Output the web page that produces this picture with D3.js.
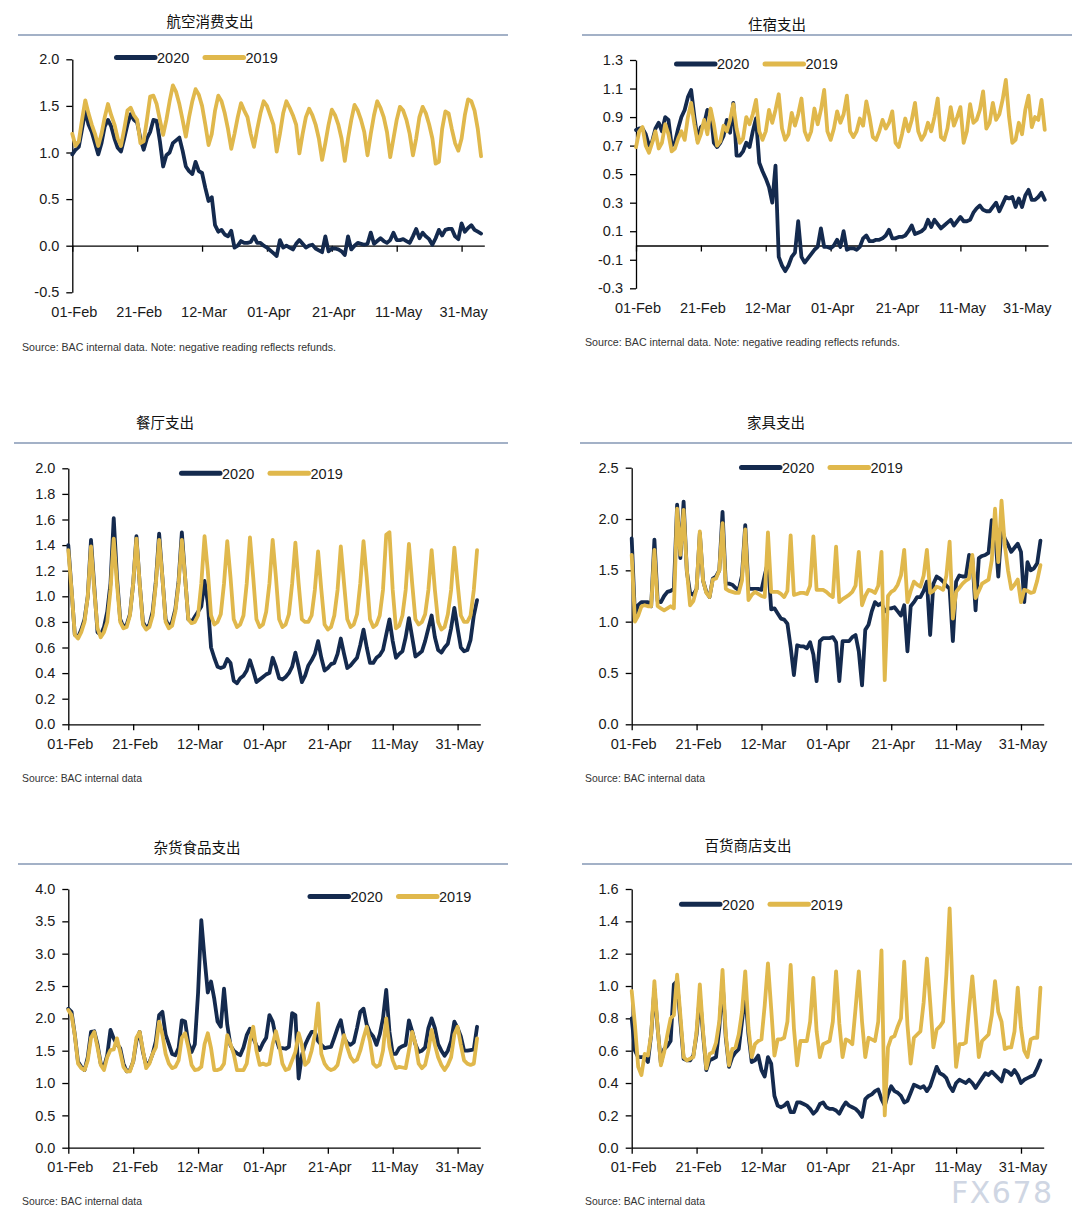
<!DOCTYPE html>
<html><head><meta charset="utf-8">
<script src="https://cdn.jsdelivr.net/npm/d3@7"></script>
<style>
body{margin:0;background:#fff;}
svg{display:block;font-family:"Liberation Sans",Arial,sans-serif;}
</style>
</head><body>
<svg id="c" width="1079" height="1226"></svg>
<script>
// ---------- data ----------
const tickDays = [0, 20, 40, 60, 80, 100, 120];
const tickLabels = ["01-Feb", "21-Feb", "12-Mar", "01-Apr", "21-Apr", "11-May", "31-May"];
const seriesNames = ["2020", "2019"];
const titles = ["航空消费支出", "住宿支出", "餐厅支出", "家具支出", "杂货食品支出", "百货商店支出"];
const footers = [
  "Source: BAC internal data. Note: negative reading reflects refunds.",
  "Source: BAC internal data. Note: negative reading reflects refunds.",
  "Source: BAC internal data", "Source: BAC internal data",
  "Source: BAC internal data", "Source: BAC internal data"
];
const yTicksAir = [-0.5, 0, 0.5, 1.0, 1.5, 2.0];
const yTicksLodging = [-0.3, -0.1, 0.1, 0.3, 0.5, 0.7, 0.9, 1.1, 1.3];
const yTicksRestaurant = [0, 0.2, 0.4, 0.6, 0.8, 1.0, 1.2, 1.4, 1.6, 1.8, 2.0];
const yTicksFurniture = [0, 0.5, 1.0, 1.5, 2.0, 2.5];
const yTicksGrocery = [0, 0.5, 1.0, 1.5, 2.0, 2.5, 3.0, 3.5, 4.0];
const yTicksDept = [0, 0.2, 0.4, 0.6, 0.8, 1.0, 1.2, 1.4, 1.6];

const air2020 = [0.98,1.03,1.06,1.25,1.45,1.30,1.22, 1.10,0.98,1.10,1.28,1.35,1.28,1.15, 1.05,1.01,1.15,1.30,1.41,1.35,1.32, 1.15,1.03,1.15,1.22,1.35,1.34,1.12, 0.85,0.97,1.00,1.10,1.13,1.16,1.02, 0.85,0.80,0.77,0.90,0.80,0.78,0.62, 0.48,0.52,0.22,0.15,0.17,0.12,0.10, 0.16,-0.02,0.00,0.05,0.03,0.03,0.04, 0.10,0.03,0.03,0.00,-0.02,-0.05,-0.08, -0.11,0.06,-0.02,0.00,-0.02,-0.04,0.02, 0.06,0.02,-0.02,0.00,0.01,-0.03,-0.05, -0.07,0.10,-0.06,-0.03,-0.03,-0.04,-0.06, -0.10,0.10,-0.04,0.00,0.03,0.02,0.01, 0.02,0.14,0.02,0.05,0.08,0.05,0.03, 0.06,0.14,0.06,0.06,0.07,0.05,0.03, 0.10,0.18,0.08,0.14,0.10,0.07,0.01, 0.08,0.17,0.11,0.17,0.18,0.18,0.10, 0.07,0.24,0.15,0.19,0.22,0.17,0.15, 0.13];
const air2019 = [1.20,1.07,1.12,1.35,1.56,1.42,1.30, 1.20,1.07,1.20,1.38,1.52,1.40,1.30, 1.15,1.07,1.25,1.45,1.48,1.40,1.35, 1.10,1.12,1.35,1.60,1.61,1.52,1.35, 1.19,1.35,1.55,1.72,1.65,1.52,1.35, 1.17,1.38,1.55,1.68,1.62,1.50,1.30, 1.08,1.20,1.45,1.61,1.55,1.42,1.25, 1.04,1.20,1.38,1.53,1.45,1.38,1.20, 1.06,1.25,1.42,1.55,1.50,1.40,1.30, 1.01,1.20,1.42,1.55,1.48,1.40,1.30, 0.99,1.20,1.38,1.47,1.40,1.30,1.15, 0.92,1.10,1.30,1.46,1.40,1.30,1.15, 0.91,1.15,1.35,1.51,1.45,1.35,1.22, 0.97,1.20,1.40,1.55,1.48,1.38,1.22, 0.95,1.15,1.35,1.49,1.45,1.35,1.20, 0.97,1.15,1.38,1.49,1.42,1.30,1.15, 0.88,0.90,1.25,1.44,1.42,1.25,1.10, 1.02,1.15,1.40,1.57,1.55,1.45,1.25, 0.96];

const lodging2020 = [0.81,0.82,0.82,0.78,0.70,0.73,0.82, 0.86,0.80,0.90,0.88,0.70,0.72,0.82, 0.90,0.95,1.04,1.09,0.90,0.74,0.83, 0.85,0.95,0.94,0.72,0.69,0.72,0.77, 0.88,0.79,1.00,0.63,0.63,0.66,0.72, 0.69,0.80,0.89,0.58,0.52,0.47,0.41, 0.30,0.56,-0.08,-0.14,-0.18,-0.14,-0.08, -0.05,0.17,-0.08,-0.12,-0.09,-0.06,-0.03, -0.01,0.12,-0.01,-0.01,-0.02,0.00,0.04, -0.01,0.10,-0.03,-0.02,-0.02,-0.03,-0.01, 0.05,0.07,0.03,0.03,0.04,0.04,0.05, 0.07,0.11,0.05,0.05,0.06,0.06,0.07, 0.10,0.14,0.08,0.09,0.10,0.12,0.18, 0.13,0.18,0.15,0.12,0.14,0.16,0.18, 0.14,0.17,0.20,0.17,0.17,0.18,0.23, 0.26,0.28,0.25,0.24,0.24,0.27,0.30, 0.24,0.29,0.34,0.33,0.34,0.27,0.33, 0.27,0.35,0.39,0.32,0.32,0.34,0.37, 0.32];
const lodging2019 = [0.69,0.80,0.83,0.70,0.65,0.72,0.80, 0.68,0.72,0.85,0.78,0.66,0.68,0.75, 0.80,0.74,0.90,1.00,0.85,0.72,0.78, 0.88,0.78,0.96,0.85,0.70,0.73,0.84, 0.80,0.88,0.99,0.82,0.72,0.75,0.90, 0.85,0.92,1.02,0.80,0.74,0.80,0.95, 0.86,0.95,1.06,0.82,0.74,0.78,0.93, 0.84,0.92,1.03,0.80,0.74,0.80,0.96, 0.85,0.95,1.09,0.80,0.74,0.82,0.94, 0.86,0.92,1.05,0.80,0.76,0.80,0.89, 0.84,1.01,0.90,0.76,0.74,0.80,0.88, 0.82,0.86,0.94,0.72,0.69,0.78,0.89, 0.80,0.88,1.00,0.80,0.74,0.78,0.86, 0.80,0.90,1.03,0.76,0.74,0.82,0.97, 0.84,0.90,0.97,0.72,0.80,0.99,0.86, 0.88,0.95,1.08,0.82,0.86,1.00,0.88, 0.92,1.02,1.16,0.90,0.72,0.74,0.86, 0.78,0.95,1.05,0.83,0.90,0.88,1.02, 0.81];

const restaurant2020 = [1.40,1.05,0.70,0.68,0.74,0.82,1.00, 1.44,1.08,0.72,0.70,0.76,0.88,1.10, 1.61,1.15,0.82,0.76,0.78,0.86,1.10, 1.47,1.10,0.80,0.75,0.78,0.88,1.12, 1.49,1.15,0.82,0.76,0.80,0.90,1.12, 1.50,1.15,0.82,0.80,0.84,0.88,0.92, 1.12,0.95,0.60,0.52,0.45,0.44,0.45, 0.51,0.48,0.34,0.32,0.36,0.38,0.42, 0.50,0.42,0.33,0.35,0.37,0.39,0.40, 0.52,0.45,0.36,0.35,0.37,0.40,0.45, 0.56,0.45,0.33,0.38,0.46,0.50,0.55, 0.65,0.52,0.42,0.44,0.47,0.48,0.55, 0.67,0.55,0.44,0.46,0.49,0.52,0.62, 0.74,0.60,0.48,0.48,0.52,0.54,0.58, 0.70,0.82,0.65,0.52,0.55,0.57,0.68, 0.83,0.68,0.53,0.55,0.57,0.65,0.75, 0.85,0.68,0.58,0.56,0.60,0.63,0.75, 0.91,0.75,0.60,0.57,0.58,0.66,0.85, 0.97];
const restaurant2019 = [1.36,1.05,0.70,0.67,0.72,0.80,1.00, 1.39,1.05,0.75,0.68,0.72,0.80,1.05, 1.45,1.10,0.80,0.75,0.76,0.85,1.10, 1.45,1.10,0.78,0.74,0.76,0.85,1.10, 1.44,1.15,0.80,0.75,0.77,0.88,1.10, 1.44,1.15,0.82,0.79,0.80,0.85,1.10, 1.47,1.20,0.85,0.78,0.80,0.86,1.10, 1.43,1.15,0.82,0.76,0.78,0.85,1.10, 1.46,1.15,0.82,0.76,0.78,0.88,1.10, 1.44,1.15,0.82,0.76,0.78,0.86,1.10, 1.42,1.10,0.82,0.80,0.80,0.85,1.05, 1.35,1.05,0.78,0.74,0.76,0.85,1.05, 1.39,1.10,0.82,0.76,0.78,0.86,1.10, 1.43,1.15,0.82,0.76,0.78,0.85,1.05, 1.48,1.50,1.05,0.75,0.77,0.85,1.05, 1.41,1.10,0.82,0.78,0.80,0.86,1.05, 1.36,1.05,0.80,0.74,0.76,0.86,1.05, 1.38,1.10,0.85,0.80,0.80,0.85,1.05, 1.36];

const furniture2020 = [1.81,1.06,1.16,1.19,1.19,1.19,1.15, 1.80,1.20,1.19,1.25,1.29,1.30,1.32, 2.14,1.62,2.17,1.49,1.28,1.26,1.32, 1.86,1.40,1.29,1.24,1.42,1.44,1.50, 2.07,1.37,1.37,1.36,1.33,1.31,1.45, 1.94,1.32,1.32,1.32,1.32,1.31,1.45, 1.58,1.12,1.13,1.08,1.03,1.02,0.98, 0.75,0.48,0.77,0.76,0.76,0.74,0.80, 0.68,0.42,0.81,0.84,0.84,0.84,0.85, 0.80,0.42,0.81,0.81,0.81,0.85,0.87, 0.71,0.38,0.92,0.97,1.10,1.19,1.16, 1.18,1.10,1.13,1.13,1.14,1.10,1.06, 1.16,0.71,1.15,1.19,1.24,1.24,1.30, 1.39,0.87,1.37,1.44,1.42,1.39,1.35, 1.32,0.81,1.39,1.45,1.44,1.44,1.65, 1.62,1.11,1.62,1.64,1.65,1.67,1.99, 1.88,1.44,1.91,1.81,1.75,1.68,1.72, 1.76,1.68,1.19,1.58,1.50,1.52,1.57, 1.79];
const furniture2019 = [1.65,1.00,1.06,1.15,1.16,1.15,1.15, 1.70,1.15,1.13,1.11,1.13,1.15,1.13, 2.10,1.65,2.09,1.50,1.16,1.20,1.32, 1.88,1.40,1.28,1.24,1.41,1.42,1.50, 1.96,1.32,1.30,1.29,1.28,1.28,1.40, 1.90,1.21,1.26,1.29,1.27,1.25,1.24, 1.87,1.29,1.29,1.29,1.27,1.24,1.30, 1.84,1.26,1.27,1.28,1.28,1.27,1.35, 1.83,1.31,1.31,1.31,1.29,1.26,1.24, 1.73,1.19,1.22,1.24,1.26,1.29,1.35, 1.68,1.16,1.25,1.31,1.30,1.28,1.35, 1.68,0.43,1.25,1.29,1.31,1.36,1.45, 1.70,1.19,1.30,1.39,1.36,1.34,1.45, 1.70,1.28,1.30,1.34,1.33,1.31,1.45, 1.78,1.03,1.29,1.33,1.37,1.40,1.42, 1.65,1.23,1.30,1.37,1.39,1.41,1.60, 2.10,1.58,2.18,1.75,1.50,1.32,1.36, 1.41,1.19,1.31,1.30,1.28,1.29,1.40, 1.55];

const grocery2020 = [2.15,2.10,1.75,1.33,1.25,1.20,1.40, 1.79,1.80,1.60,1.30,1.25,1.43,1.82, 1.69,1.60,1.54,1.30,1.18,1.20,1.33, 1.65,1.79,1.48,1.28,1.32,1.45,1.65, 2.05,2.10,1.75,1.60,1.45,1.43,1.54, 1.97,1.95,1.62,1.48,1.60,2.39,3.52, 2.93,2.40,2.57,2.30,1.95,1.87,2.46, 1.90,1.58,1.50,1.46,1.43,1.55,1.74, 1.84,1.70,1.58,1.51,1.62,1.70,2.05, 1.95,1.70,1.54,1.54,1.53,1.56,2.08, 2.05,1.07,1.43,1.59,1.70,1.79,1.79, 1.65,1.59,1.54,1.55,1.56,1.70,1.85, 1.97,1.70,1.62,1.59,1.63,1.85,2.10, 2.15,1.90,1.78,1.72,1.59,1.75,2.00, 2.44,1.79,1.45,1.45,1.54,1.57,1.59, 1.97,1.80,1.60,1.48,1.50,1.55,1.85, 2.00,1.85,1.60,1.50,1.42,1.50,1.65, 1.95,1.85,1.72,1.50,1.50,1.51,1.52, 1.87];
const grocery2019 = [2.13,2.05,1.74,1.30,1.23,1.20,1.35, 1.70,1.79,1.55,1.28,1.20,1.40,1.51, 1.52,1.69,1.48,1.25,1.18,1.18,1.33, 1.70,1.79,1.51,1.23,1.30,1.45,1.55, 1.95,1.75,1.45,1.30,1.23,1.25,1.35, 1.70,1.77,1.55,1.28,1.20,1.21,1.25, 1.60,1.77,1.54,1.20,1.20,1.22,1.30, 1.74,1.60,1.45,1.20,1.20,1.20,1.30, 1.65,1.87,1.50,1.28,1.30,1.28,1.30, 1.60,1.80,1.59,1.30,1.20,1.22,1.35, 1.48,1.77,1.59,1.28,1.33,1.50,1.75, 2.23,1.45,1.30,1.23,1.20,1.22,1.28, 1.50,1.74,1.55,1.40,1.33,1.36,1.50, 1.70,1.87,1.64,1.30,1.25,1.28,1.50, 2.00,1.56,1.35,1.23,1.25,1.24,1.23, 1.50,1.79,1.61,1.30,1.23,1.28,1.50, 1.82,1.59,1.40,1.28,1.20,1.28,1.40, 1.75,1.87,1.59,1.35,1.30,1.28,1.30, 1.69];

const dept2020 = [0.80,0.60,0.56,0.56,0.56,0.53,0.70, 0.98,0.74,0.52,0.61,0.63,0.66,1.01, 1.03,0.78,0.55,0.54,0.54,0.57,0.70, 0.94,0.70,0.48,0.54,0.55,0.56,0.74, 1.03,0.68,0.50,0.56,0.59,0.61,0.78, 0.95,0.70,0.53,0.54,0.57,0.48,0.44, 0.56,0.52,0.32,0.26,0.25,0.26,0.28, 0.22,0.22,0.28,0.28,0.27,0.26,0.24, 0.21,0.23,0.27,0.28,0.25,0.24,0.24, 0.23,0.21,0.25,0.28,0.26,0.25,0.24, 0.22,0.19,0.30,0.32,0.33,0.35,0.36, 0.30,0.26,0.33,0.38,0.35,0.34,0.32, 0.28,0.29,0.34,0.39,0.38,0.37,0.38, 0.35,0.38,0.44,0.50,0.46,0.45,0.43, 0.38,0.35,0.40,0.42,0.41,0.40,0.42, 0.40,0.37,0.40,0.43,0.46,0.45,0.47, 0.45,0.43,0.41,0.48,0.47,0.45,0.48, 0.45,0.40,0.42,0.43,0.44,0.45,0.49, 0.54];
const dept2019 = [0.97,0.76,0.50,0.45,0.58,0.57,0.70, 1.03,0.74,0.51,0.59,0.70,0.80,0.82, 1.07,0.82,0.56,0.54,0.55,0.56,0.72, 1.01,0.72,0.49,0.58,0.59,0.65,0.78, 1.10,0.70,0.51,0.61,0.62,0.70,0.84, 1.09,0.74,0.56,0.64,0.66,0.67,0.88, 1.14,0.86,0.57,0.67,0.67,0.68,0.78, 1.13,0.74,0.51,0.66,0.66,0.66,0.78, 1.05,0.72,0.56,0.64,0.65,0.66,0.78, 1.09,0.77,0.56,0.67,0.66,0.64,0.86, 1.09,0.78,0.56,0.68,0.67,0.66,0.78, 1.22,0.20,0.62,0.68,0.69,0.75,0.80, 1.15,0.76,0.52,0.68,0.70,0.72,0.90, 1.17,0.90,0.62,0.73,0.75,0.78,1.07, 1.48,0.92,0.50,0.64,0.64,0.65,0.86, 1.06,0.82,0.56,0.66,0.68,0.70,0.82, 1.03,0.84,0.78,0.61,0.62,0.62,0.72, 0.99,0.74,0.60,0.56,0.67,0.68,0.68, 0.99];

// ---------- layout / style ----------
const NAVY = "#142a4e", GOLD = "#e0b84c", RULE = "#8597b5";
const panelData = [
  {s20: air2020, s19: air2019, yt: yTicksAir},
  {s20: lodging2020, s19: lodging2019, yt: yTicksLodging},
  {s20: restaurant2020, s19: restaurant2019, yt: yTicksRestaurant},
  {s20: furniture2020, s19: furniture2019, yt: yTicksFurniture},
  {s20: grocery2020, s19: grocery2019, yt: yTicksGrocery},
  {s20: dept2020, s19: dept2019, yt: yTicksDept}
];
const layout = [
  {tx:210, ty:27, rx1:18, rx2:508, ry:35, left:72.3, top:59.3, bottom:292.3, lx:116.5, ly:57.5, fx:22, fy:351, fw:314},
  {tx:777, ty:30, rx1:582, rx2:1072, ry:35, left:636, top:60, bottom:288.3, lx:676.5, ly:64, fx:585, fy:346, fw:315},
  {tx:165, ty:428, rx1:14, rx2:508, ry:443, left:68.3, top:468.3, bottom:724.3, lx:181.5, ly:473.3, fx:22, fy:782, fw:120},
  {tx:776, ty:428, rx1:580, rx2:1072, ry:443, left:631.7, top:467.7, bottom:724.3, lx:741.5, ly:467.5, fx:585, fy:782, fw:120},
  {tx:197, ty:853, rx1:18, rx2:508, ry:864, left:68.3, top:889, bottom:1147.7, lx:310, ly:896.5, fx:22, fy:1205, fw:120},
  {tx:748, ty:851, rx1:582, rx2:1072, ry:864, left:631.7, top:889, bottom:1147.7, lx:681.5, ly:904.3, fx:585, fy:1205, fw:120}
];

const svg = d3.select("#c");
svg.append("rect").attr("width",1079).attr("height",1226).attr("fill","#fff");

panelData.forEach((p, i) => {
  const L = layout[i];
  const g = svg.append("g");
  const x = d3.scaleLinear().domain([0, 127]).range([L.left, L.left + 412]);
  const y = d3.scaleLinear().domain([d3.min(p.yt), d3.max(p.yt)]).range([L.bottom, L.top]);

  // title + rule
  g.append("text").attr("x", L.tx).attr("y", L.ty).attr("text-anchor","middle")
    .style("font-family","'Noto Sans CJK SC',sans-serif").style("font-size","14.5px").attr("fill","#111")
    .text(titles[i]);
  g.append("line").attr("x1",L.rx1).attr("x2",L.rx2).attr("y1",L.ry).attr("y2",L.ry)
    .attr("stroke",RULE).attr("stroke-width",1.6);

  // y axis
  const ya = g.append("g").attr("transform",`translate(${L.left},0)`)
    .call(d3.axisLeft(y).tickValues(p.yt).tickSize(6).tickSizeOuter(0).tickPadding(7)
      .tickFormat(d => d.toFixed(1)));
  ya.select(".domain").attr("stroke","#000").attr("stroke-width",1.3);
  ya.selectAll(".tick line").attr("stroke","#000").attr("stroke-width",1.3);
  ya.selectAll(".tick text").style("font-size","14.5px").attr("fill","#1a1a1a");

  // x axis line at zero with ticks
  const xa = g.append("g").attr("transform",`translate(0,${y(0)})`)
    .call(d3.axisBottom(x).tickValues(tickDays).tickSize(6).tickSizeOuter(0).tickFormat(""));
  xa.select(".domain").attr("stroke","#000").attr("stroke-width",1.3);
  xa.selectAll(".tick line").attr("stroke","#000").attr("stroke-width",1.3);

  // x labels at bottom
  const xl = g.append("g").attr("transform",`translate(1.5,${L.bottom + 9.5})`)
    .call(d3.axisBottom(x).tickValues(tickDays).tickSize(0).tickPadding(5)
      .tickFormat((d, k) => tickLabels[k]));
  xl.select(".domain").remove();
  xl.selectAll(".tick text").style("font-size","14.5px").attr("fill","#1a1a1a");

  // lines
  const line = d3.line().x((d, k) => x(k)).y(d => y(d)).curve(d3.curveLinear);
  g.append("path").datum(p.s20).attr("d", line).attr("fill","none")
    .attr("stroke",NAVY).attr("stroke-width",3.8).attr("stroke-linejoin","round").attr("stroke-linecap","round");
  g.append("path").datum(p.s19).attr("d", line).attr("fill","none")
    .attr("stroke",GOLD).attr("stroke-width",3.8).attr("stroke-linejoin","round").attr("stroke-linecap","round");

  // legend
  [NAVY, GOLD].forEach((c, k) => {
    const lx = L.lx + k * 88.5;
    g.append("line").attr("x1",lx).attr("x2",lx + 38.5).attr("y1",L.ly).attr("y2",L.ly)
      .attr("stroke",c).attr("stroke-width",5).attr("stroke-linecap","round");
    g.append("text").attr("x",lx + 40.5).attr("y",L.ly + 5.2).style("font-size","14.5px")
      .attr("fill","#1a1a1a").text(seriesNames[k]);
  });

  // footer
  g.append("text").attr("x",L.fx).attr("y",L.fy).style("font-size","10.5px").attr("fill","#333")
    .attr("textLength",L.fw).attr("lengthAdjust","spacingAndGlyphs").text(footers[i]);
});

// watermark
svg.append("text").attr("x",951).attr("y",1203).style("font-size","30px").style("font-family","'DejaVu Sans',sans-serif")
  .attr("fill","#cfd6e3").attr("letter-spacing","1.5px").text("FX678");
</script>
</body></html>
